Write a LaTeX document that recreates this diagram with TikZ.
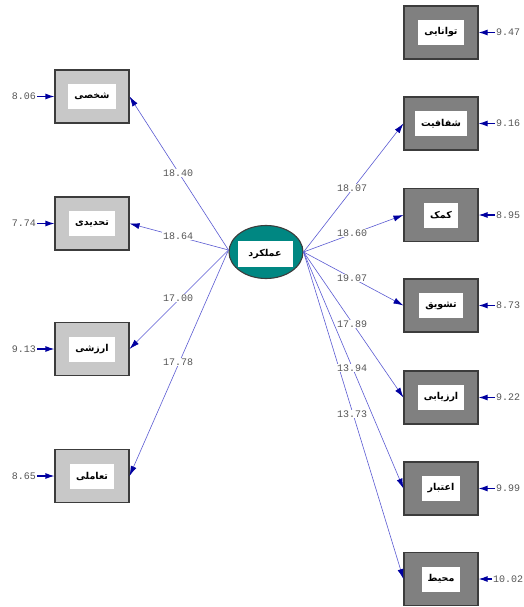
\documentclass[tikz,border=0pt]{standalone}
\usepackage{fontspec}
\usetikzlibrary{arrows.meta,shapes.geometric}
\TeXXeTstate=1
\newfontfamily\arabicfont[Script=Arabic]{DejaVu Sans}
\setmonofont{Liberation Mono}
\definecolor{lightbox}{RGB}{200,200,200}
\definecolor{darkbox}{RGB}{128,128,128}
\definecolor{frame}{RGB}{60,60,60}
\definecolor{latentfill}{RGB}{0,135,130}
\definecolor{pathline}{RGB}{90,90,210}
\definecolor{tipcol}{RGB}{0,0,160}
\definecolor{numcol}{RGB}{85,85,85}
\newcommand{\fa}[1]{{\arabicfont\bfseries\beginR #1\endR}}
\tikzset{
  obsbox/.style={draw=frame, line width=1.1pt, minimum width=74pt, minimum height=53pt, inner sep=0pt},
  leftbox/.style={obsbox, fill=lightbox},
  rightbox/.style={obsbox, fill=darkbox},
  tag/.style={fill=white, inner xsep=6pt, inner ysep=0pt, minimum height=25pt, font=\fontsize{9.5}{10}\selectfont},
  latent/.style={ellipse, draw=frame, line width=1.1pt, fill=latentfill, minimum width=74pt, minimum height=53pt, inner sep=0pt},
  num/.style={font=\ttfamily\fontsize{10}{11}\selectfont, text=numcol, inner sep=1pt},
  coef/.style={num, fill=white},
  path/.style={draw=pathline, line width=0.6pt, -{Latex[length=10pt,width=6pt,color=tipcol]}},
  err/.style={draw=tipcol, line width=1.1pt, -{Latex[length=9pt,width=6pt,color=tipcol]}}
}
\begin{document}
\begin{tikzpicture}[x=1pt,y=-1pt]
\useasboundingbox (0,0) rectangle (524,607);

% latent variable
\node[latent] (perf) at (266,252) {};
\node[tag, minimum width=55pt, minimum height=26pt] at (265,254) {\fa{عملکرد}};

% observed variables on the left
\node[leftbox] (l1) at (92,96.5) {}; \node[tag] at (l1) {\fa{شخصی}};
\node[leftbox] (l2) at (92,223.5) {}; \node[tag] at (l2) {\fa{تحدیدی}};
\node[leftbox] (l3) at (92,349) {}; \node[tag] at (l3) {\fa{ارزشی}};
\node[leftbox] (l4) at (92,476) {}; \node[tag] at (l4) {\fa{تعاملی}};

% observed variables on the right
\node[rightbox] (r1) at (441,32.5) {}; \node[tag] at (r1) {\fa{توانایی}};
\node[rightbox] (r2) at (441,123.5) {}; \node[tag] at (r2) {\fa{شفافیت}};
\node[rightbox] (r3) at (441,215) {}; \node[tag] at (r3) {\fa{کمک}};
\node[rightbox] (r4) at (441,305.5) {}; \node[tag] at (r4) {\fa{تشویق}};
\node[rightbox] (r5) at (441,397.5) {}; \node[tag] at (r5) {\fa{ارزیابی}};
\node[rightbox] (r6) at (441,488.5) {}; \node[tag] at (r6) {\fa{اعتبار}};
\node[rightbox] (r7) at (441,579) {}; \node[tag] at (r7) {\fa{محیط}};

% loadings
\coordinate (pw) at ([yshift=2pt]perf.west);
\coordinate (pe) at (perf.east);
\foreach \b in {l1,l2,l3,l4} \draw[path] (pw) -- (\b.east);
\foreach \b in {r2,r3,r4,r5,r6,r7} \draw[path] (pe) -- (\b.west);

\node[coef] (c1) at (178,173) {18.40};
\node[coef] (c2) at (178,236) {18.64};
\node[coef] (c3) at (178,298) {17.00};
\node[coef] (c4) at (178,362) {17.78};
\node[coef] (c5) at (352,188) {18.07};
\node[coef] (c6) at (352,233) {18.60};
\node[coef] (c7) at (352,278) {19.07};
\node[coef] (c8) at (352,324) {17.89};
\node[coef] (c9) at (352,368) {13.94};
\node[coef] (c10) at (352,414) {13.73};

% error terms
\node[num, anchor=east] (e1) at (37,96.5) {8.06};
\node[num, anchor=east] (e2) at (37,223.5) {7.74};
\node[num, anchor=east] (e3) at (37,349) {9.13};
\node[num, anchor=east] (e4) at (37,476) {8.65};
\foreach \i in {1,2,3,4} \draw[err] (e\i.east) -- (l\i.west);

\node[num, anchor=west] (f1) at (495,32.5) {9.47};
\node[num, anchor=west] (f2) at (495,123.5) {9.16};
\node[num, anchor=west] (f3) at (495,215) {8.95};
\node[num, anchor=west] (f4) at (495,305.5) {8.73};
\node[num, anchor=west] (f5) at (495,397.5) {9.22};
\node[num, anchor=west] (f6) at (495,488.5) {9.99};
\node[num, anchor=west] (f7) at (492,579) {10.02};
\foreach \i in {1,...,7} \draw[err] (f\i.west) -- (r\i.east);
\end{tikzpicture}
\end{document}
